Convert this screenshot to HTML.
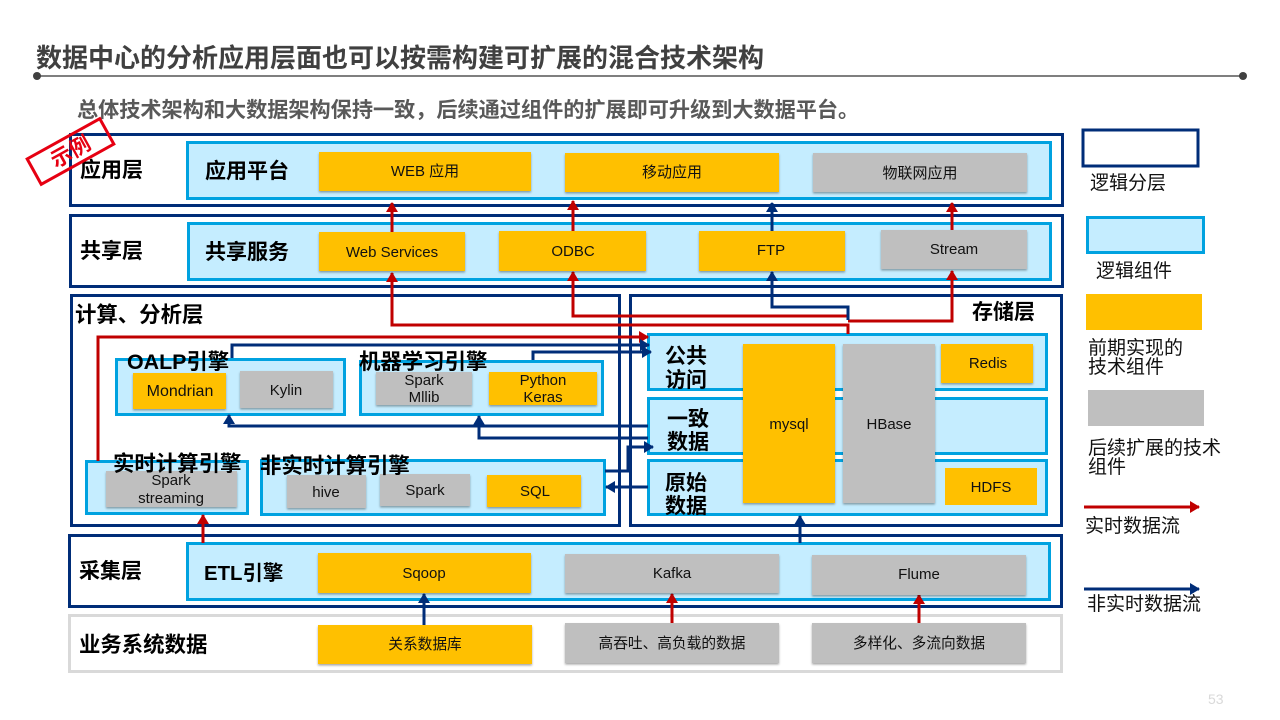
<!DOCTYPE html>
<html><head><meta charset="utf-8">
<style>
html,body{margin:0;padding:0;background:#fff;width:1280px;height:720px;overflow:hidden}
svg{display:block}
text{font-family:"Liberation Sans","Noto Sans CJK SC",sans-serif}
.b{font-weight:700;fill:#000;font-size:21.4px}
.a{font-size:21px}
.m{font-size:15px;fill:#111;text-anchor:middle}
.c{font-size:14.7px}
.l{font-size:19px;fill:#111}
.o{fill:#ffc000;filter:url(#s)}
.g{fill:#bfbfbf;filter:url(#s)}
.lay{fill:#fff;stroke:#002d78;stroke-width:3}
.in{fill:#c5edff;stroke:#00a2e0;stroke-width:3}
.r,.n{fill:none;stroke-width:3}
.r{stroke:#c00000}.n{stroke:#002d78}
</style></head><body>
<svg width="1280" height="720" viewBox="0 0 1280 720" xmlns="http://www.w3.org/2000/svg">
<defs>
<filter id="s" x="-5%" y="-5%" width="110%" height="115%"><feDropShadow dx="0" dy="1.5" stdDeviation="1" flood-color="#000" flood-opacity=".35"/></filter>
<marker id="ar" markerUnits="userSpaceOnUse" markerWidth="10" markerHeight="12" refX="9" refY="6" orient="auto"><path d="M0 0L10 6L0 12z" fill="#c00000"/></marker>
<marker id="an" markerUnits="userSpaceOnUse" markerWidth="10" markerHeight="12" refX="9" refY="6" orient="auto"><path d="M0 0L10 6L0 12z" fill="#002d78"/></marker>
</defs>

<text x="36" y="67" style="font-size:26px;font-weight:700;fill:#404040">数据中心的分析应用层面也可以按需构建可扩展的混合技术架构</text>
<line x1="36" y1="76" x2="1243" y2="76" stroke="#7f7f7f" stroke-width="2"/>
<circle cx="37" cy="76" r="4" fill="#404040"/><circle cx="1243" cy="76" r="4" fill="#404040"/>
<text x="77" y="117" style="font-size:21.15px;font-weight:700;fill:#595959">总体技术架构和大数据架构保持一致，后续通过组件的扩展即可升级到大数据平台。</text>

<!-- layers -->
<rect class="lay" x="70.5" y="134.5" width="992" height="71"/>
<rect class="lay" x="70.5" y="215.5" width="992" height="71"/>
<rect class="lay" x="71.5" y="295.5" width="548" height="230"/>
<rect class="lay" x="630.5" y="295.5" width="431" height="230"/>
<rect class="lay" x="69.5" y="535.5" width="992" height="71"/>
<rect x="69.5" y="615.5" width="992" height="56" fill="#fff" stroke="#d9d9d9" stroke-width="3"/>

<!-- inner -->
<rect class="in" x="187.5" y="142.5" width="863" height="56"/>
<rect class="in" x="188.5" y="223.5" width="862" height="56"/>
<rect class="in" x="116.5" y="359.5" width="228" height="55"/>
<rect class="in" x="360.5" y="361.5" width="242" height="53"/>
<rect class="in" x="86.5" y="461.5" width="161" height="52"/>
<rect class="in" x="261.5" y="460.5" width="343" height="54"/>
<rect class="in" x="648.5" y="334.5" width="398" height="55"/>
<rect class="in" x="648.5" y="398.5" width="398" height="55"/>
<rect class="in" x="648.5" y="460.5" width="398" height="54"/>
<rect class="in" x="187.5" y="543.5" width="862" height="56"/>

<!-- connectors -->
<path class="r" d="M392 232V203" marker-end="url(#ar)"/>
<path class="r" d="M573 231V201" marker-end="url(#ar)"/>
<path class="r" d="M952 230V203" marker-end="url(#ar)"/>
<path class="r" d="M848 334V325H392V273" marker-end="url(#ar)"/>
<path class="r" d="M848 316H573V272" marker-end="url(#ar)"/>
<path class="r" d="M848 321H952V271" marker-end="url(#ar)"/>
<path class="r" d="M98 461V337H648" marker-end="url(#ar)"/>
<path class="r" d="M203 543V515" marker-end="url(#ar)"/>
<path class="r" d="M672 623V594" marker-end="url(#ar)"/>
<path class="r" d="M919 623V595" marker-end="url(#ar)"/>
<path class="n" d="M772 231V203" marker-end="url(#an)"/>
<path class="n" d="M848 320V307H772V272" marker-end="url(#an)"/>
<path class="n" d="M232 358V345H649" marker-end="url(#an)"/>
<path class="n" d="M533 360V352H651" marker-end="url(#an)"/>
<path class="n" d="M648 426H229V415" marker-end="url(#an)"/>
<path class="n" d="M648 438H479V416" marker-end="url(#an)"/>
<path class="n" d="M605 471H628V447H653" marker-end="url(#an)"/>
<path class="n" d="M648 487H606" marker-end="url(#an)"/>
<path class="n" d="M800 543V516" marker-end="url(#an)"/>
<path class="n" d="M424 625V594" marker-end="url(#an)"/>

<!-- boxes -->
<rect class="o" x="319" y="152" width="212" height="39"/>
<rect class="o" x="565" y="153" width="214" height="39"/>
<rect class="g" x="813" y="153" width="214" height="39"/>
<rect class="o" x="319" y="232" width="146" height="39"/>
<rect class="o" x="499" y="231" width="147" height="40"/>
<rect class="o" x="699" y="231" width="146" height="40"/>
<rect class="g" x="881" y="230" width="146" height="39"/>
<rect class="o" x="133" y="373" width="93" height="36"/>
<rect class="g" x="240" y="371" width="93" height="37"/>
<rect class="g" x="376" y="372" width="96" height="33"/>
<rect class="o" x="489" y="372" width="108" height="33"/>
<rect class="g" x="106" y="471" width="131" height="36"/>
<rect class="g" x="287" y="475" width="79" height="33"/>
<rect class="g" x="380" y="474" width="90" height="32"/>
<rect class="o" x="487" y="475" width="94" height="32"/>
<rect class="o" x="743" y="344" width="92" height="159"/>
<rect class="g" x="843" y="344" width="92" height="159"/>
<rect class="o" x="941" y="344" width="92" height="39"/>
<rect x="945" y="468" width="92" height="37" fill="#ffc000"/>
<rect class="o" x="318" y="553" width="213" height="40"/>
<rect class="g" x="565" y="554" width="214" height="39"/>
<rect class="g" x="812" y="555" width="214" height="40"/>
<rect class="o" x="318" y="625" width="214" height="39"/>
<rect class="g" x="565" y="623" width="214" height="40"/>
<rect class="g" x="812" y="623" width="214" height="40"/>

<!-- box labels -->
<text class="m" x="425" y="176">WEB 应用</text>
<text class="m" x="672" y="177">移动应用</text>
<text class="m" x="920" y="178">物联网应用</text>
<text class="m" x="392" y="257">Web Services</text>
<text class="m" x="573" y="256">ODBC</text>
<text class="m" x="771" y="255">FTP</text>
<text class="m" x="954" y="254">Stream</text>
<text class="m" x="180" y="396" style="font-size:16px">Mondrian</text>
<text class="m" x="286" y="395">Kylin</text>
<text class="m" x="424" y="385">Spark</text>
<text class="m" x="424" y="402">Mllib</text>
<text class="m" x="543" y="385">Python</text>
<text class="m" x="543" y="402">Keras</text>
<text class="m" x="171" y="485">Spark</text>
<text class="m" x="171" y="503">streaming</text>
<text class="m" x="326" y="497">hive</text>
<text class="m" x="425" y="495">Spark</text>
<text class="m" x="535" y="496">SQL</text>
<text class="m" x="789" y="429">mysql</text>
<text class="m" x="889" y="429">HBase</text>
<text class="m" x="988" y="368">Redis</text>
<text class="m" x="991" y="492">HDFS</text>
<text class="m" x="424" y="578">Sqoop</text>
<text class="m" x="672" y="578">Kafka</text>
<text class="m" x="919" y="579">Flume</text>
<text class="m c" x="425" y="649">关系数据库</text>
<text class="m c" x="672" y="648">高吞吐、高负载的数据</text>
<text class="m c" x="919" y="648">多样化、多流向数据</text>

<!-- bold labels -->
<text class="b a" x="80" y="177">应用层</text>
<text class="b a" x="205" y="178">应用平台</text>
<text class="b a" x="80" y="258">共享层</text>
<text class="b a" x="205" y="259">共享服务</text>
<text class="b" x="75" y="322">计算、分析层</text>
<text class="b a" x="972" y="319">存储层</text>
<text class="b" x="127" y="369">OALP引擎</text>
<text class="b" x="359" y="369">机器学习引擎</text>
<text class="b" x="113" y="471">实时计算引擎</text>
<text class="b" x="260" y="473">非实时计算引擎</text>
<text class="b a" x="665" y="363">公共</text>
<text class="b a" x="665" y="387">访问</text>
<text class="b a" x="667" y="426">一致</text>
<text class="b a" x="667" y="449">数据</text>
<text class="b a" x="665" y="490">原始</text>
<text class="b a" x="665" y="513">数据</text>
<text class="b a" x="79" y="578">采集层</text>
<text class="b" style="font-size:20.4px" x="204" y="580">ETL引擎</text>
<text class="b" x="79" y="652">业务系统数据</text>

<!-- stamp -->
<g transform="rotate(-29 70.5 151.5)">
<rect x="29" y="137" width="83" height="29" fill="none" stroke="#e60012" stroke-width="3"/>
<text x="70.5" y="159" text-anchor="middle" style="font-size:21px;fill:#e60012;font-weight:700">示例</text>
</g>

<!-- legend -->
<rect x="1083" y="130" width="115" height="36" fill="#fff" stroke="#002d78" stroke-width="3"/>
<text class="l" x="1090" y="189">逻辑分层</text>
<rect class="in" x="1087.5" y="217.5" width="116" height="35"/>
<text class="l" x="1096" y="277">逻辑组件</text>
<rect x="1086" y="294" width="116" height="36" fill="#ffc000"/>
<text class="l" x="1088" y="354">前期实现的</text>
<text class="l" x="1088" y="373">技术组件</text>
<rect x="1088" y="390" width="116" height="36" fill="#bfbfbf"/>
<text class="l" x="1088" y="454">后续扩展的技术</text>
<text class="l" x="1088" y="473">组件</text>
<path class="r" d="M1084 507H1199" marker-end="url(#ar)"/>
<text class="l" x="1085" y="532">实时数据流</text>
<path class="n" d="M1084 589H1199" marker-end="url(#an)"/>
<text class="l" x="1087" y="610">非实时数据流</text>
<text x="1208" y="704" style="font-size:14px;fill:#d9d9d9">53</text>
</svg>
</body></html>
